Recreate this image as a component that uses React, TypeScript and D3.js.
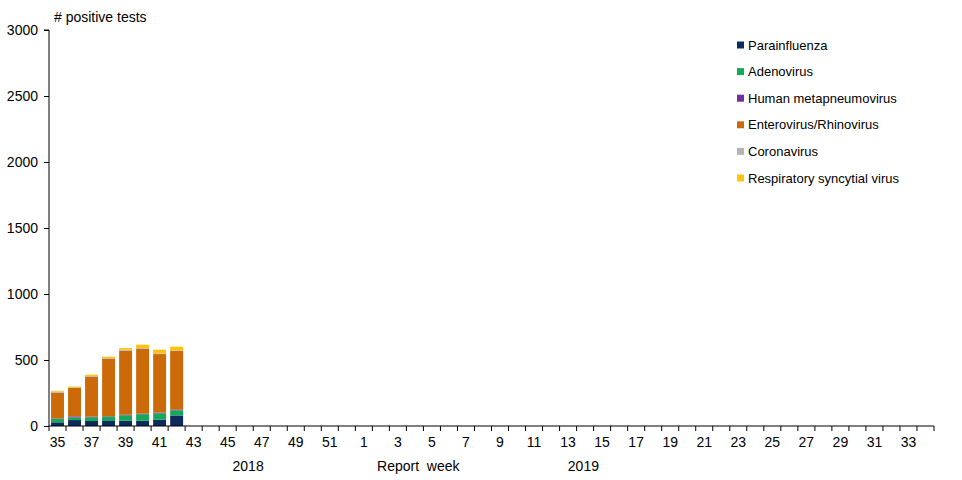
import React, { useEffect, useRef } from 'react';
import * as d3 from 'd3';

// report weeks on the x axis, week 35 of 2018 to week 34 of 2019
const weeks = [
  '35', '36', '37', '38', '39', '40', '41', '42', '43', '44', '45', '46', '47', '48', '49', '50', '51', '52',
  '1', '2', '3', '4', '5', '6', '7', '8', '9', '10', '11', '12', '13', '14', '15', '16', '17',
  '18', '19', '20', '21', '22', '23', '24', '25', '26', '27', '28', '29', '30', '31', '32', '33', '34'
];

// weeks that have data so far
const reportedWeeks = ['35', '36', '37', '38', '39', '40', '41', '42'];

const parainfluenza = [28, 45, 38, 38, 40, 40, 48, 80];
const adenovirus = [27, 20, 28, 32, 41, 49, 48, 39];
const metapneumovirus = [3, 8, 5, 4, 4, 5, 5, 6];
const enterovirus = [194, 217, 303, 436, 485, 491, 444, 443];
const coronavirus = [9, 3, 5, 5, 8, 6, 5, 5];
const rsv = [6, 6, 10, 10, 13, 25, 28, 28];

const seriesNames = [
  'Parainfluenza',
  'Adenovirus',
  'Human metapneumovirus',
  'Enterovirus/Rhinovirus',
  'Coronavirus',
  'Respiratory syncytial virus'
];
const seriesValues = [parainfluenza, adenovirus, metapneumovirus, enterovirus, coronavirus, rsv];
const seriesColors = ['#0c2a5c', '#14a85a', '#7030a0', '#cc6a0a', '#b4b4b4', '#ffc20e'];

const yTicks = [0, 500, 1000, 1500, 2000, 2500, 3000];

// labels under the week numbers, placed by week index
const axisNotes = [
  { text: '2018', pos: 11.7 },
  { text: 'Report  week', pos: 21.7 },
  { text: '2019', pos: 31.4 }
];

const App: React.FC = () => {
  const svgRef = useRef<SVGSVGElement>(null);
  const width = 962;
  const height = 480;
  const margin = { top: 30, right: 28, bottom: 54, left: 49 };
  const font = 'Arial, "Liberation Sans", sans-serif';

  useEffect(() => {
    if (!svgRef.current) return;
    const svg = d3.select(svgRef.current);
    svg.selectAll('*').remove();

    const x = d3.scaleBand<string>()
      .domain(weeks)
      .range([margin.left, width - margin.right])
      .paddingInner(0.24)
      .paddingOuter(0.12);

    const y = d3.scaleLinear()
      .domain([0, 3000])
      .range([height - margin.bottom, margin.top]);

    const rows = reportedWeeks.map((w, i) => {
      const row: Record<string, number | string> = { week: w };
      seriesNames.forEach((name, s) => { row[name] = seriesValues[s][i]; });
      return row;
    });

    const stacked = d3.stack<Record<string, number | string>>()
      .keys(seriesNames)
      .value((d, key) => d[key] as number)(rows);

    const bars = svg.append('g');
    stacked.forEach((layer, s) => {
      bars.selectAll(null)
        .data(layer)
        .enter()
        .append('rect')
        .attr('x', d => x(d.data.week as string)!)
        .attr('width', x.bandwidth())
        .attr('y', d => y(d[1]))
        .attr('height', d => y(d[0]) - y(d[1]))
        .attr('fill', seriesColors[s]);
    });

    // y axis
    const yAxis = svg.append('g')
      .attr('transform', `translate(${margin.left},0)`)
      .call(d3.axisLeft(y).tickValues(yTicks).tickSize(5).tickPadding(6).tickFormat(d3.format('d')));
    yAxis.select('.domain').attr('stroke', '#000').attr('d', `M-5,${y(3000)}H0V${y(0)}`);
    yAxis.selectAll('text').attr('font-size', 14).attr('font-family', font).attr('fill', '#000');

    // x axis: ticks on week boundaries, labels on odd weeks
    const step = x.step();
    const x0 = margin.left;
    const bottom = y(0);
    const xAxis = svg.append('g');
    xAxis.append('line')
      .attr('x1', x0).attr('x2', width - margin.right)
      .attr('y1', bottom).attr('y2', bottom)
      .attr('stroke', '#000');
    xAxis.selectAll('.tick')
      .data(d3.range(weeks.length + 1))
      .enter()
      .append('line')
      .attr('x1', i => x0 + i * step).attr('x2', i => x0 + i * step)
      .attr('y1', bottom).attr('y2', bottom + 5)
      .attr('stroke', '#000');
    xAxis.selectAll('.lbl')
      .data(weeks.filter((_, i) => i % 2 === 0))
      .enter()
      .append('text')
      .attr('x', d => x(d)! + x.bandwidth() / 2)
      .attr('y', bottom + 21)
      .attr('text-anchor', 'middle')
      .attr('font-size', 14)
      .attr('font-family', font)
      .text(d => d);

    svg.append('g').selectAll('text')
      .data(axisNotes)
      .enter()
      .append('text')
      .attr('x', d => x0 + d.pos * step)
      .attr('y', bottom + 45)
      .attr('text-anchor', 'middle')
      .attr('font-size', 14)
      .attr('font-family', font)
      .style('white-space', 'pre')
      .text(d => d.text);

    svg.append('text')
      .attr('x', 54)
      .attr('y', 22)
      .attr('font-size', 14)
      .attr('font-family', font)
      .text('# positive tests');

    // legend
    const legend = svg.append('g').attr('transform', 'translate(737,45)');
    seriesNames.forEach((name, i) => {
      const g = legend.append('g').attr('transform', `translate(0,${i * 26.6})`);
      g.append('rect').attr('x', 0).attr('y', -3.5).attr('width', 7).attr('height', 7).attr('fill', seriesColors[i]);
      g.append('text')
        .attr('x', 11)
        .attr('y', 0)
        .attr('dy', '0.35em')
        .attr('font-size', 13)
        .attr('font-family', font)
        .text(name);
    });
  }, []);

  return (
    <svg
      ref={svgRef}
      width={width}
      height={height}
      style={{ position: 'absolute', left: 0, top: 0, background: '#fff' }}
    />
  );
};

export default App;
